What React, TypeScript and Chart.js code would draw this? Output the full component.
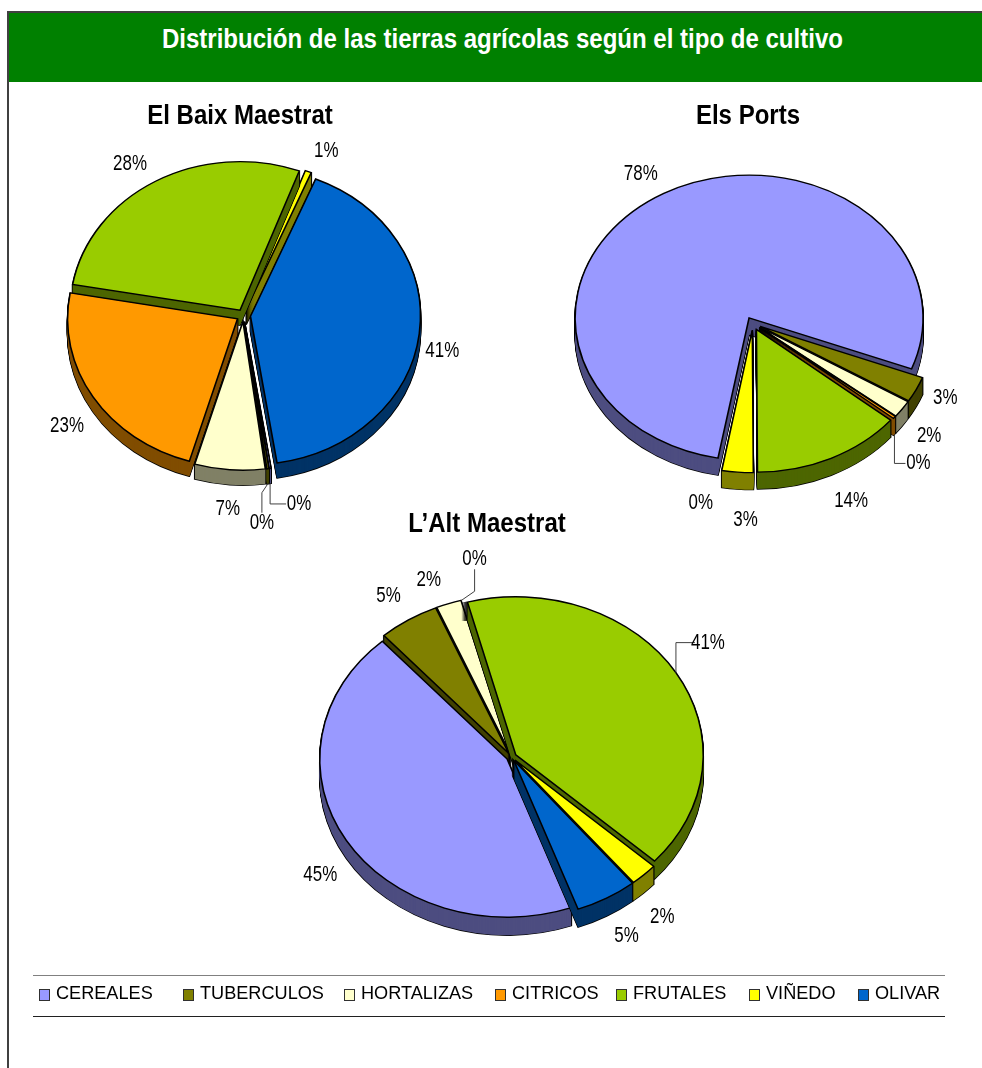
import React, { useEffect, useRef } from "react";
import { Chart, registerables } from "chart.js";

Chart.register(...registerables);

const categories = ["CEREALES", "TUBERCULOS", "HORTALIZAS", "CITRICOS", "FRUTALES", "VIÑEDO", "OLIVAR"];
const topColors = ["#9999FF", "#808000", "#FFFFCC", "#FF9900", "#99CC00", "#FFFF00", "#0066CC"];
const wallColors = ["#4D4D80", "#404000", "#808066", "#804D00", "#4D6600", "#808000", "#003366"];

const baixValues = [0.2, 0.2, 6.7, 23.3, 28, 0.6, 41.4];
const portsValues = [77.8, 2.9, 1.95, 0.28, 13.9, 2.9, 0.05];
const altValues = [44.5, 5.3, 2.2, 0.05, 41.4, 2.4, 5.4];

const legendLeft = [39, 183, 344, 495, 616, 749, 858];

const FONT = '"Liberation Sans", Arial, sans-serif';

interface PieLayout {
  title: string; titleX: number; titleY: number;
  cx: number; cy: number; r: number; k: number; burst: number; depth: number; rotation: number;
  values: number[];
  labelShift: number[][];
  leaders: Record<number, string>;
}

const pies: PieLayout[] = [
  {
    title: "El Baix Maestrat", titleX: 240, titleY: 117,
    cx: 243.5, cy: 315.5, r: 170, k: 0.874, burst: 7, depth: 15, rotation: 171, values: baixValues,
    labelShift: [[29, 20.5], [-6, 39], [-2, 24], [-26, 14], [-25.5, -17], [18, -21], [23, 2]],
    leaders: { 0: "hv", 1: "dv" },
  },
  {
    title: "Els Ports", titleX: 748, titleY: 117,
    cx: 753, cy: 323.5, r: 174, k: 0.82, burst: 8, depth: 17, rotation: 190.3, values: portsValues,
    labelShift: [[-23, -19], [29, -9], [27, 10], [24, 29], [20, 26], [8, 31], [-20, 16]],
    leaders: { 3: "hv" },
  },
  {
    title: "L’Alt Maestrat", titleX: 487, titleY: 525,
    cx: 511.5, cy: 757, r: 187.5, k: 0.843, burst: 5, depth: 18, rotation: 160, values: altValues,
    labelShift: [[-26, 17], [-20, -24], [-20, -24], [13, -41], [32, -30], [18.4, 23.7], [20, 20]],
    leaders: { 3: "dv", 4: "hv" },
  },
];

function squeezedText(ctx: CanvasRenderingContext2D, text: string, x: number, y: number, sx: number) {
  ctx.save();
  ctx.translate(x, y);
  ctx.scale(sx, 1);
  ctx.textAlign = "center";
  ctx.textBaseline = "middle";
  ctx.fillText(text, 0, 0);
  ctx.restore();
}

const pie3d = {
  id: "pie3d",
  beforeDatasetsDraw(chart: any, _args: any, opts: any) {
    const p: PieLayout = opts.layout;
    const ctx: CanvasRenderingContext2D = chart.ctx;
    const arcs: any[] = chart.getDatasetMeta(0).data;
    const mid = (a: any) => (a.startAngle + a.endAngle) / 2;
    const order = arcs.map((_, i) => i).sort((a, b) => Math.sin(mid(arcs[a])) - Math.sin(mid(arcs[b])));

    const place = (arc: any, lift: number) => {
      const m = mid(arc);
      ctx.translate(arc.x, arc.y + lift);
      ctx.scale(1, p.k);
      ctx.translate(-arc.x, -arc.y);
      ctx.translate(Math.cos(m) * p.burst, Math.sin(m) * p.burst);
    };
    const stamp = (arc: any, lift: number, over: any) => {
      const base = arc.options;
      arc.options = { ...base, ...over };
      ctx.save();
      place(arc, lift);
      arc.draw(ctx);
      ctx.restore();
      arc.options = base;
    };

    for (const i of order) {
      // slices this thin have no visible surface in the reference, only a label
      if (p.values[i] < 0.1) continue;
      const arc = arcs[i];
      for (let d = p.depth; d >= 1; d--) {
        stamp(arc, d, { backgroundColor: "#000000", borderColor: "#000000", borderWidth: 1.6 });
      }
      for (let d = p.depth; d >= 1; d--) {
        stamp(arc, d, { backgroundColor: wallColors[i], borderWidth: 0 });
      }
      stamp(arc, 0, { backgroundColor: topColors[i], borderColor: "#000000", borderWidth: 1.6 });
    }

    // percentage labels and their leader lines
    ctx.save();
    ctx.fillStyle = "#000000";
    ctx.font = `22px ${FONT}`;
    arcs.forEach((arc, i) => {
      const m = mid(arc);
      const px = arc.x + Math.cos(m) * (p.r + p.burst);
      const lower = Math.sin(m) > 0;
      const py = arc.y + Math.sin(m) * (p.r + p.burst) * p.k + (lower ? p.depth : 0);
      const lx = px + p.labelShift[i][0];
      const ly = py + p.labelShift[i][1];
      const kind = p.leaders[i];
      if (kind) {
        ctx.save();
        ctx.strokeStyle = "#404040";
        ctx.lineWidth = 1;
        ctx.beginPath();
        ctx.moveTo(px, py);
        if (kind === "hv") {
          ctx.lineTo(px, ly);
          ctx.lineTo(lx - 13, ly);
        } else {
          const s = ly > py ? 1 : -1;
          ctx.lineTo(lx, py + s * 9);
          ctx.lineTo(lx, ly - s * 10);
        }
        ctx.stroke();
        ctx.restore();
      }
      squeezedText(ctx, `${Math.round(p.values[i])}%`, lx, ly, 0.77);
    });
    ctx.font = `bold 27px ${FONT}`;
    squeezedText(ctx, p.title, p.titleX, p.titleY, 0.89);
    ctx.restore();
    return false;
  },
};

function PieCanvas({ p }: { p: PieLayout }) {
  const ref = useRef<HTMLCanvasElement>(null);
  useEffect(() => {
    const half = p.r + 20;
    const chart = new Chart(ref.current as HTMLCanvasElement, {
      type: "pie",
      data: {
        labels: categories,
        datasets: [{ data: p.values, backgroundColor: topColors, borderColor: "#000000", borderWidth: 1.6, borderJoinStyle: "miter" }],
      },
      options: {
        responsive: false,
        animation: false,
        rotation: p.rotation,
        radius: p.r,
        layout: {
          padding: {
            left: p.cx - half,
            right: 982 - p.cx - half,
            top: p.cy - half,
            bottom: 1068 - p.cy - half,
          },
        },
        plugins: { legend: { display: false }, tooltip: { enabled: false }, pie3d: { layout: p } },
      },
      plugins: [pie3d],
    } as any);
    return () => chart.destroy();
  }, [p]);
  return <canvas ref={ref} width={982} height={1068} style={{ position: "absolute", left: 0, top: 0 }} />;
}

export default function App() {
  return (
    <div style={{ position: "absolute", left: 0, top: 0, width: 982, height: 1068, overflow: "hidden", background: "#fff", fontFamily: FONT }}>
      <div style={{ position: "absolute", left: 7, top: 11, width: 975, height: 2, background: "#404040" }} />
      <div style={{ position: "absolute", left: 7, top: 11, width: 2, height: 1057, background: "#404040" }} />
      <div style={{ position: "absolute", left: 9, top: 13, width: 973, height: 69, background: "#008000" }} />
      <div style={{ position: "absolute", left: 9, top: 13, width: 985, height: 52, lineHeight: "52px", textAlign: "center", color: "#fff", fontWeight: "bold", fontSize: 27, whiteSpace: "nowrap", transform: "scaleX(0.89)", transformOrigin: "501px 0" }}>
        Distribución de las tierras agrícolas según el tipo de cultivo
      </div>
      {pies.map((p) => <PieCanvas key={p.title} p={p} />)}
      <div style={{ position: "absolute", left: 33, top: 975, width: 912, height: 1, background: "#808080" }} />
      <div style={{ position: "absolute", left: 33, top: 1016, width: 912, height: 1, background: "#202020" }} />
      {categories.map((c, i) => (
        <React.Fragment key={c}>
          <div style={{ position: "absolute", left: legendLeft[i], top: 989, width: 9, height: 10, background: topColors[i], border: "1px solid #303030" }} />
          <div style={{ position: "absolute", left: legendLeft[i] + 17, top: 980, height: 26, lineHeight: "26px", fontSize: 18.5, color: "#000", whiteSpace: "nowrap", transform: "scaleX(0.98)", transformOrigin: "0 0" }}>{c}</div>
        </React.Fragment>
      ))}
    </div>
  );
}
